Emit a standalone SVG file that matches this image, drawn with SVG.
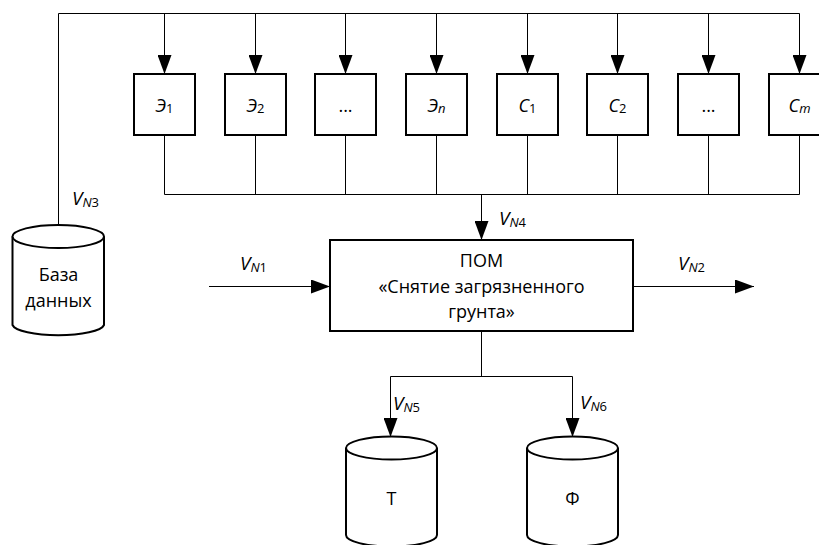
<svg xmlns="http://www.w3.org/2000/svg" width="819" height="545" viewBox="0 0 819 545">
<style>
text{font-family:"Open Sans","Liberation Sans",Arial,sans-serif;font-size:18px;fill:#000;text-anchor:middle}
.i{font-style:italic}
.s{font-size:13px}
.b{font-size:18px}
.v{font-size:19px}
.box{fill:#fff;stroke:#000;stroke-width:2}
.ln{fill:none;stroke:#000;stroke-width:1}
.lbl{text-anchor:start}
</style>
<defs>
<marker id="ah" markerUnits="userSpaceOnUse" markerWidth="20" markerHeight="14" refX="19" refY="7" orient="auto">
<path d="M0,0 L19,7 L0,14 z" fill="#000"/>
</marker>
</defs>
<rect width="819" height="545" fill="#fff"/>
<g id="connectors">
<path class="ln" d="M58.5,225 V13.5 H799.5"/>
<path class="ln" d="M164.5,13.5 V74" marker-end="url(#ah)"/>
<path class="ln" d="M255.5,13.5 V74" marker-end="url(#ah)"/>
<path class="ln" d="M345.5,13.5 V74" marker-end="url(#ah)"/>
<path class="ln" d="M436.5,13.5 V74" marker-end="url(#ah)"/>
<path class="ln" d="M527.5,13.5 V74" marker-end="url(#ah)"/>
<path class="ln" d="M617.5,13.5 V74" marker-end="url(#ah)"/>
<path class="ln" d="M708.5,13.5 V74" marker-end="url(#ah)"/>
<path class="ln" d="M799.5,13.5 V74" marker-end="url(#ah)"/>
<path class="ln" d="M164.5,135 V194.5 H799.5 V135 M255.5,135 V194.5 M345.5,135 V194.5 M436.5,135 V194.5 M527.5,135 V194.5 M617.5,135 V194.5 M708.5,135 V194.5"/>
<path class="ln" d="M481.5,194.5 V240" marker-end="url(#ah)"/>
<path class="ln" d="M209,286.5 H330" marker-end="url(#ah)"/>
<path class="ln" d="M633,286.5 H754" marker-end="url(#ah)"/>
<path class="ln" d="M481.5,331 V376.5 M390.5,436 V376.5 H572.5 V436"/>
<path class="ln" d="M390.5,400 V437" marker-end="url(#ah)"/>
<path class="ln" d="M572.5,400 V437" marker-end="url(#ah)"/>
<text class="lbl v" x="72" y="205"><tspan class="i">V</tspan><tspan class="s" dy="2"><tspan class="i">N</tspan>3</tspan></text>
<text class="lbl v" x="240" y="270"><tspan class="i">V</tspan><tspan class="s" dy="2"><tspan class="i">N</tspan>1</tspan></text>
<text class="lbl v" x="499" y="225"><tspan class="i">V</tspan><tspan class="s" dy="2"><tspan class="i">N</tspan>4</tspan></text>
<text class="lbl v" x="678" y="269.5"><tspan class="i">V</tspan><tspan class="s" dy="2"><tspan class="i">N</tspan>2</tspan></text>
<text class="lbl v" x="393" y="409.5"><tspan class="i">V</tspan><tspan class="s" dy="2"><tspan class="i">N</tspan>5</tspan></text>
<text class="lbl v" x="580" y="409"><tspan class="i">V</tspan><tspan class="s" dy="2"><tspan class="i">N</tspan>6</tspan></text>
</g>
<g id="e1"><rect class="box" x="134" y="74" width="61" height="61"/><text class="b" x="164.5" y="112"><tspan class="i">Э</tspan><tspan class="s" dy="1">1</tspan></text></g>
<g id="e2"><rect class="box" x="225" y="74" width="61" height="61"/><text class="b" x="255.5" y="112"><tspan class="i">Э</tspan><tspan class="s" dy="1">2</tspan></text></g>
<g id="edots"><rect class="box" x="315" y="74" width="61" height="61"/><text class="b" x="345.5" y="112">...</text></g>
<g id="en"><rect class="box" x="406" y="74" width="61" height="61"/><text class="b" x="436.5" y="112"><tspan class="i">Э</tspan><tspan class="s i" dy="1">n</tspan></text></g>
<g id="c1"><rect class="box" x="497" y="74" width="61" height="61"/><text class="b" x="527.5" y="112"><tspan class="i">С</tspan><tspan class="s" dy="1">1</tspan></text></g>
<g id="c2"><rect class="box" x="587" y="74" width="61" height="61"/><text class="b" x="617.5" y="112"><tspan class="i">С</tspan><tspan class="s" dy="1">2</tspan></text></g>
<g id="cdots"><rect class="box" x="678" y="74" width="61" height="61"/><text class="b" x="708.5" y="112">...</text></g>
<g id="cm"><rect class="box" x="769" y="74" width="61" height="61"/><text class="b" x="799.5" y="112"><tspan class="i">С</tspan><tspan class="s i" dy="1">m</tspan></text></g>
<g id="pom"><rect class="box" x="330" y="240" width="303" height="91"/>
<text x="481.5" y="267">ПОМ</text><text x="481.5" y="293">«Снятие загрязненного</text><text x="481.5" y="318">грунта»</text></g>
<g id="db">
<path class="box" d="M12.5,236.5 V325 A46,11.5 0 0 0 104,325 V236.5"/>
<ellipse class="box" cx="58.25" cy="236.5" rx="45.75" ry="11.5"/>
<text x="58.5" y="281">База</text><text x="58.5" y="307">данных</text>
</g>
<g id="t">
<path class="box" d="M346,448 V535 A45.5,11.5 0 0 0 437,535 V448"/>
<ellipse class="box" cx="391.5" cy="448" rx="45.5" ry="11.5"/>
<text class="b" x="391.5" y="505">Т</text>
</g>
<g id="f">
<path class="box" d="M527,448 V535 A45.5,11.5 0 0 0 618,535 V448"/>
<ellipse class="box" cx="572.5" cy="448" rx="45.5" ry="11.5"/>
<text class="b" x="572.5" y="505">Ф</text>
</g>
</svg>
